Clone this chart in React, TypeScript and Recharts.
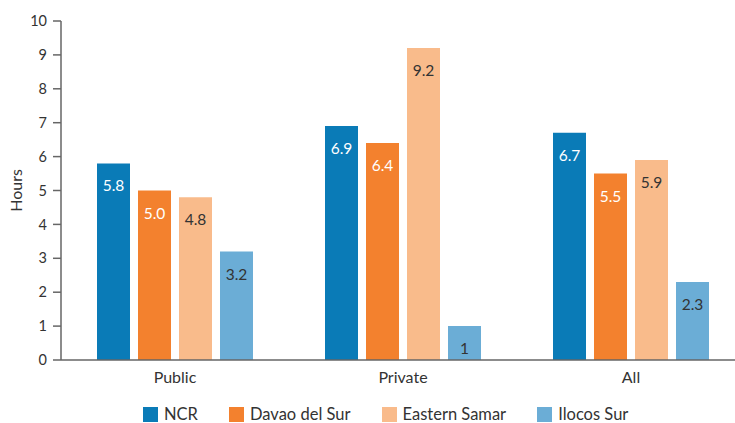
import { Bar, BarChart, LabelList, Legend, XAxis, YAxis } from "recharts";

const categories = ["Public", "Private", "All"];
const ncr = [5.8, 6.9, 6.7];
const davao = [5.0, 6.4, 5.5];
const easternSamar = [4.8, 9.2, 5.9];
const ilocos = [3.2, 1, 2.3];
const yTicks = [0, 1, 2, 3, 4, 5, 6, 7, 8, 9, 10];

const series = [
  { key: "ncr", name: "NCR", color: "#0a7bb7", labelColor: "#ffffff" },
  { key: "davao", name: "Davao del Sur", color: "#f3812e", labelColor: "#ffffff" },
  { key: "samar", name: "Eastern Samar", color: "#f9bb8b", labelColor: "#333333" },
  { key: "ilocos", name: "Ilocos Sur", color: "#6badd6", labelColor: "#333333" },
];

const data = categories.map((c, i) => ({
  cat: c,
  ncr: ncr[i],
  davao: davao[i],
  samar: easternSamar[i],
  ilocos: ilocos[i],
}));

const FONT = "Lato, 'Open Sans', sans-serif";
const AXIS = "#666666";
const TEXT = "#333333";

// values like 1 print as "1", everything else keeps one decimal
const fmt = (v: number) => (Number.isInteger(v) && v < 2 ? String(v) : v.toFixed(1));

function LegendContent() {
  return (
    <div
      style={{
        display: "flex",
        alignItems: "center",
        paddingLeft: 143,
        paddingTop: 16,
        fontFamily: FONT,
        fontSize: 16.5,
        color: TEXT,
        lineHeight: "16px",
      }}
    >
      {series.map((s) => (
        <div key={s.key} style={{ display: "flex", alignItems: "center", marginRight: 31 }}>
          <span style={{ width: 15, height: 15, background: s.color, marginRight: 6, display: "inline-block" }} />
          <span>{s.name}</span>
        </div>
      ))}
    </div>
  );
}

export default function App() {
  return (
    <div
      style={{
        position: "absolute",
        left: 0,
        top: 0,
        width: 735,
        height: 423,
        overflow: "hidden",
        background: "#ffffff",
      }}
    >
      <BarChart
        width={752}
        height={423}
        data={data}
        margin={{ top: 21, right: 7, left: 0, bottom: 0 }}
        barCategoryGap={36}
        barGap={8}
      >
        <XAxis
          dataKey="cat"
          height={30}
          tickLine={false}
          tickMargin={6}
          axisLine={{ stroke: AXIS, strokeWidth: 1.5 }}
          tick={{ fill: TEXT, fontSize: 16, fontFamily: FONT }}
        />
        <YAxis
          width={61}
          domain={[0, 10]}
          ticks={yTicks}
          interval={0}
          tickSize={8}
          tickMargin={6}
          axisLine={{ stroke: AXIS, strokeWidth: 1.5 }}
          tickLine={{ stroke: AXIS, strokeWidth: 1.5 }}
          tick={{ fill: TEXT, fontSize: 14.5, fontFamily: FONT }}
          label={{
            value: "Hours",
            angle: -90,
            position: "insideLeft",
            offset: 16,
            style: { fill: TEXT, fontSize: 16, fontFamily: FONT, textAnchor: "middle" },
          }}
        />
        <Legend
          verticalAlign="bottom"
          align="left"
          height={33}
          content={<LegendContent />}
        />
        {series.map((s) => (
          <Bar key={s.key} dataKey={s.key} name={s.name} fill={s.color} isAnimationActive={false}>
            <LabelList
              dataKey={s.key}
              position="insideTop"
              offset={17}
              formatter={(v: number) => fmt(v)}
              style={{ fill: s.labelColor, fontSize: 15.5, fontFamily: FONT }}
            />
          </Bar>
        ))}
      </BarChart>
    </div>
  );
}
